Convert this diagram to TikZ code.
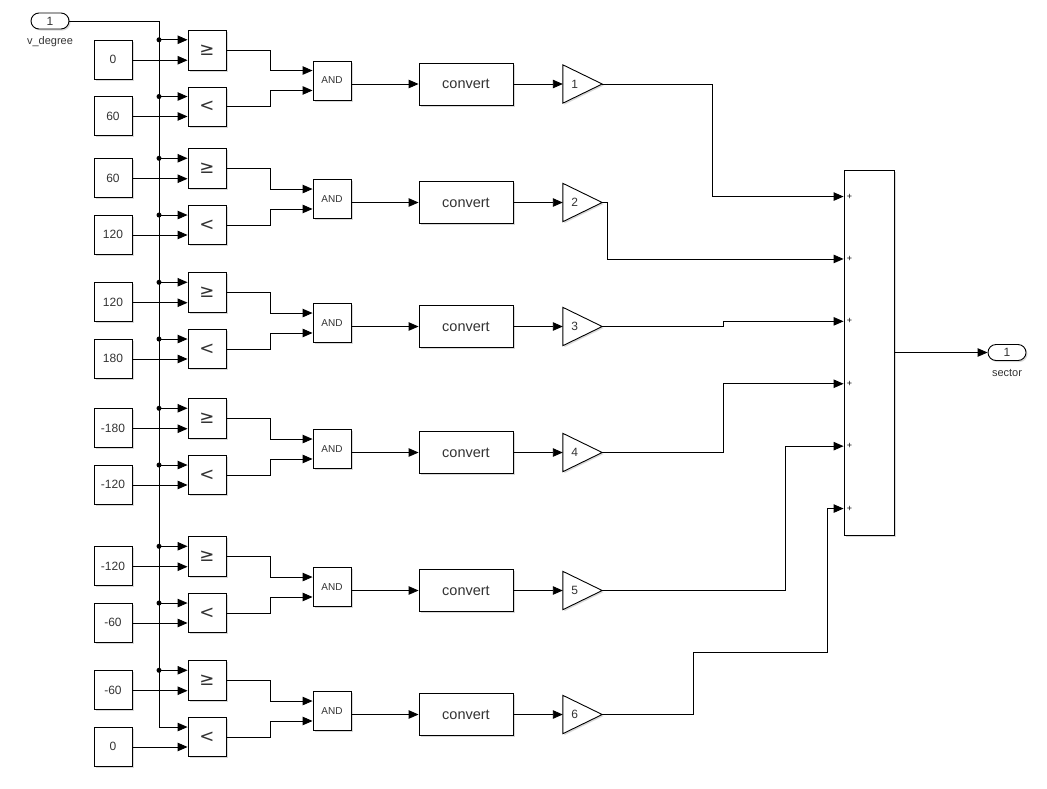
\documentclass[tikz,border=0pt]{standalone}
\usepackage{fontspec}
\setmainfont{Liberation Sans}
\newfontfamily\symfont{DejaVu Sans}
\usetikzlibrary{arrows.meta,calc,shadows}
\begin{document}
\begin{tikzpicture}[x=1pt,y=-1pt,
  wire/.style={line width=0.9pt},
  sig/.style={wire,-{Triangle[length=10pt,width=8.5pt]}},
  shad/.style={drop shadow={opacity=0.3,shadow xshift=1.5pt,shadow yshift=-1.5pt}},
  blk/.style={draw,line width=0.9pt,fill=white,inner sep=0pt,shad,text=black!80},
  constb/.style={blk,minimum width=38pt,minimum height=39pt,font=\fontsize{12}{14}\selectfont},
  cmpb/.style={blk,minimum width=38pt,minimum height=39pt,font=\symfont\fontsize{18}{20}\selectfont},
  andb/.style={blk,minimum width=38pt,minimum height=39pt,font=\fontsize{10}{12}\selectfont},
  convb/.style={blk,minimum width=94pt,minimum height=42pt,font=\fontsize{14.5}{16}\selectfont},
  gainbox/.style={minimum width=39pt,minimum height=38pt,inner sep=0pt},
  port/.style={draw,line width=0.9pt,fill=white,rounded corners=8pt,minimum width=38pt,minimum height=16pt,inner sep=0pt,font=\fontsize{12}{14}\selectfont,shad,text=black!80},
  lbl/.style={font=\fontsize{11}{13}\selectfont,inner sep=0pt,text=black!80},
  dotn/.style={circle,fill,inner sep=0pt,minimum size=5pt},
  plus/.style={font=\fontsize{9}{10}\selectfont,inner sep=0pt,anchor=west}
]
\useasboundingbox (0,0) rectangle (1047,788);

% inport and bus
\node[port] (in) at (50,21) {1};
\node[lbl] (vdeg) at (50,42) {v\_degree};
\coordinate (bustop) at (159,21);

\foreach \i/\o/\a/\b in {1/0/0/60, 2/118.5/60/120, 3/242.5/120/180, 4/368.5/-180/-120, 5/506.5/-120/-60, 6/630.5/-60/0}{
  \node[constb] (ca\i) at ({113},{59.5+\o}) {\a};
  \node[constb] (cb\i) at ({113},{116+\o}) {\b};
  \node[cmpb,minimum height=40pt] (ge\i) at ({207},{50+\o}) {≥};
  \node[cmpb] (lt\i) at ({207},{106.5+\o}) {<};
  \node[andb] (and\i) at ({332},{80.5+\o}) {AND};
  \node[convb] (cv\i) at ({466},{84+\o}) {convert};
  \node[gainbox] (g\i) at ({582.5},{84+\o}) {};
  \draw[wire,fill=white,shad,line join=miter] (g\i.north west) -- (g\i.east) -- (g\i.south west) -- cycle;
  \node[font=\fontsize{12}{14}\selectfont,inner sep=0pt,text=black!80] (gl\i) at ($(g\i.west)+(12,0)$) {\i};
  % ports
  \coordinate (gi1\i) at ($(ge\i.north west)!.25!(ge\i.south west)$);
  \coordinate (gi2\i) at ($(ge\i.north west)!.75!(ge\i.south west)$);
  \coordinate (li1\i) at ($(lt\i.north west)!.25!(lt\i.south west)$);
  \coordinate (li2\i) at ($(lt\i.north west)!.75!(lt\i.south west)$);
  \coordinate (ai1\i) at ($(and\i.north west)!.25!(and\i.south west)$);
  \coordinate (ai2\i) at ($(and\i.north west)!.75!(and\i.south west)$);
  % wires
  \draw[sig] (bustop |- gi1\i) -- (gi1\i);
  \node[dotn] (da\i) at (bustop |- gi1\i) {};
  \draw[sig] (bustop |- li1\i) -- (li1\i);
  \draw[sig] (ca\i.east |- gi2\i) -- (gi2\i);
  \draw[sig] (cb\i.east |- li2\i) -- (li2\i);
  \draw[sig] (ge\i.east) -- ++(43.5,0) |- (ai1\i);
  \draw[sig] (lt\i.east) -- ++(43.5,0) |- (ai2\i);
  \draw[sig] (cv\i.west -| and\i.east) -- (cv\i.west);
  \draw[sig] (cv\i.east) -- (g\i.west);
}
\foreach \i in {1,...,5}{
  \node[dotn] (db\i) at (bustop |- li1\i) {};
}
\draw[wire] (in.east) -- (bustop) -- (bustop |- li16);

% sum
\node[blk,minimum width=50pt,minimum height=365pt] (sum) at (869,352.5) {};
\foreach \i in {1,...,6}{
  \coordinate (s\i) at ($(sum.north west)+(0,{27+62.4*(\i-1)})$);
  \node[plus] (p\i) at ($(s\i)+(3,0)$) {+};
}
\draw[sig] (g1.east) -- ++(110,0) |- (s1);
\draw[sig] (g2.east) -- ++(5,0) |- (s2);
\draw[sig] (g3.east) -- ++(121,0) |- (s3);
\draw[sig] (g4.east) -- ++(121,0) |- (s4);
\draw[sig] (g5.east) -- ++(183,0) |- (s5);
\draw[sig] (g6.east) -- ++(91,0) -- ++(0,-62) -- ++(134,0) |- (s6);

% outport
\node[port] (out) at (1007,352.5) {1};
\node[lbl] (sector) at (1007,373) {sector};
\draw[sig] (sum.east) -- (out.west);
\end{tikzpicture}
\end{document}
